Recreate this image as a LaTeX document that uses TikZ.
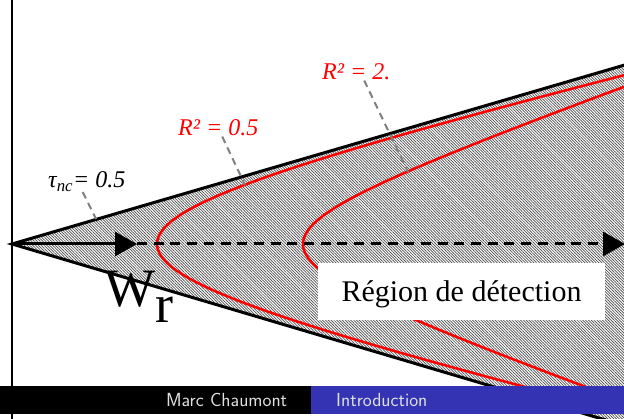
\documentclass[tikz,border=0pt]{standalone}
\usepackage{fontspec}
\setmainfont{Liberation Serif}
\usetikzlibrary{arrows.meta,patterns.meta}
\definecolor{beamerblue}{RGB}{51,51,179}
\definecolor{leadergray}{RGB}{128,128,128}

\begin{document}
\begin{tikzpicture}[x=1pt,y=-1pt]
  \tikzstyle{edge}=[line width=3pt]
  \tikzstyle{isoline}=[red,line width=2.5pt]
  \tikzstyle{leader}=[leadergray,line width=2pt,dash pattern=on 7pt off 5pt]
  \tikzstyle{label}=[inner sep=0pt,anchor=base west,font=\itshape\fontsize{24}{24}\selectfont]
  \tikzstyle{head}=[-{Triangle[length=22pt,width=24pt]}]
  \tikzstyle{footbox}=[anchor=north west,inner ysep=0pt,inner xsep=24pt,minimum height=28pt,
    text width=263pt,text=black!12,font=\sffamily\fontsize{19}{19}\selectfont]
  \useasboundingbox (0,0) rectangle (624,419);
  \fill[white] (0,0) rectangle (624,419);
  \clip (0,0) rectangle (624,419);
  % axis
  \coordinate (top) at (12,0);
  \coordinate (bottom) at (12,419);
  \draw[line width=2pt] (top) -- (bottom);
  % cone
  \coordinate (O) at (12,244);
  \coordinate (U) at (700,43);
  \coordinate (L) at (700,448);
  \fill[pattern={Lines[angle=-45,distance=2pt,line width=0.7pt]},pattern color=black!70]
    (O) -- (U) -- (L) -- cycle;
  \draw[edge] (U) -- (O) -- (L);
  % detection curves
  \draw[isoline] plot[domain=-1.75:1.75,samples=90,smooth]
    ({-157.5+314.5*cosh(\x)},{244-74.2*sinh(\x)});
  \draw[isoline] plot[domain=-2:2,samples=90,smooth]
    ({153+150*cosh(\x)},{244-52.8*sinh(\x)});
  % watermark direction
  \coordinate (T) at (137,244);
  \coordinate (E) at (625,244);
  \draw[edge,head] (O) -- (T);
  \draw[edge,head,dash pattern=on 10pt off 6.7pt] (T) -- (E);
  % labels
  \node[label] (tau) at (48,188) {τ\textsubscript{nc}= 0.5};
  \node[label,red] (r05) at (178,136) {R² = 0.5};
  \node[label,red] (r2) at (322,80) {R² = 2.};
  \coordinate (tauend) at (96,219);
  \coordinate (r05end) at (245,185);
  \coordinate (r2end) at (408,172);
  \draw[leader] ([xshift=-4pt]tau.south) -- (tauend);
  \draw[leader] ([xshift=4pt]r05.south) -- (r05end);
  \draw[leader] ([xshift=8pt]r2.south) -- (r2end);
  \node[anchor=base west,inner sep=0pt] (wr) at (104,307)
    {\fontsize{54}{54}\selectfont W\raisebox{-16pt}{r}};
  \node[fill=white,minimum width=287pt,minimum height=57pt,inner sep=0pt,
    text height=24pt,text depth=3pt,font=\fontsize{30}{30}\selectfont] (zone) at (461.5,291.5)
    {Région de détection};
  % footline
  \node[footbox,fill=black,align=right] (author) at (0,386) {Marc Chaumont};
  \node[footbox,fill=beamerblue,inner xsep=25pt,align=left] (section) at (311,386) {Introduction};
\end{tikzpicture}
\end{document}
